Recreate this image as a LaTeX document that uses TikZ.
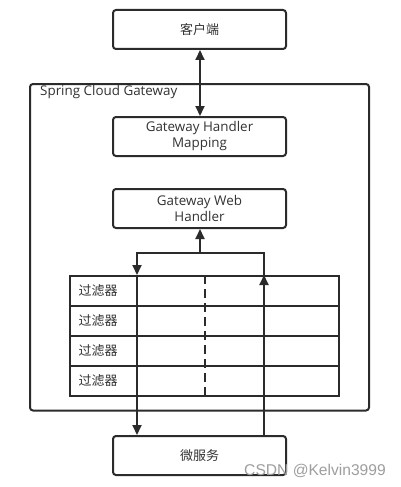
\documentclass[tikz,border=0pt]{standalone}
\usepackage{fontspec}
\setmainfont{Open Sans}
\newfontfamily\cjk{Noto Sans CJK SC}
\newfontfamily\wmfont{Liberation Sans}
\usetikzlibrary{arrows.meta,calc}
\definecolor{ln}{HTML}{2B2B2B}
\definecolor{tx}{HTML}{333333}
\begin{document}
\begin{tikzpicture}[x=1pt,y=-1pt,
  box/.style={draw=ln, line width=2pt, rounded corners=3pt, minimum width=173pt, minimum height=39pt, inner sep=0pt, align=center, text=tx, font=\fontsize{13.4}{16}\selectfont},
  cbox/.style={box, font=\cjk\fontsize{13}{15}\selectfont},
  rowbox/.style={draw=ln, line width=2pt, minimum width=269pt, minimum height=30pt, inner sep=0pt},
  ftext/.style={text=tx, font=\cjk\fontsize{13}{15}\selectfont, inner sep=0pt},
  conn/.style={draw=ln, line width=2pt},
  arr/.style={conn, -{Triangle[width=9pt,length=10pt]}},
  darr/.style={conn, {Triangle[width=9pt,length=10pt]}-{Triangle[width=9pt,length=10pt]}}]
\useasboundingbox (0,0) rectangle (400,487);
\fill[white] (0,0) rectangle (400,487);
% container
\node[draw=ln, line width=2pt, rounded corners=3pt, minimum width=339pt, minimum height=326.5pt, inner sep=0pt] (gw) at (199.5,247.25) {};
\node[anchor=west, text=tx, font=\fontsize{13.4}{16}\selectfont, inner sep=0pt] (gwlabel) at (40,92) {Spring Cloud Gateway};
% boxes
\node[cbox] (client) at (199.5,29.5) {客户端};
\node[box] (ghm) at (199.5,136.5) {Gateway Handler\\Mapping};
\node[box] (gwh) at (199.5,208.5) {Gateway Web\\Handler};
\node[cbox] (micro) at (199.5,455.5) {微服务};
% filter rows
\node[rowbox] (f1) at (204.5,291) {};
\node[rowbox] (f2) at (204.5,321) {};
\node[rowbox] (f3) at (204.5,351) {};
\node[rowbox] (f4) at (204.5,381) {};
\node[ftext] (t1) at ([xshift=29pt]f1.west) {过滤器};
\node[ftext] (t2) at ([xshift=29pt]f2.west) {过滤器};
\node[ftext] (t3) at ([xshift=29pt]f3.west) {过滤器};
\node[ftext] (t4) at ([xshift=29pt]f4.west) {过滤器};
% coordinates
\coordinate (split) at (200,253);
\coordinate (L) at (137,253);
\coordinate (R) at (264,253);
\coordinate (D) at (205,253);
% connectors
\draw[darr] ([xshift=0.5pt]client.south) -- ([xshift=0.5pt]ghm.north);
\draw[arr] (split) -- (split |- gwh.south);
\draw[arr] (R |- f1.north) -- (R) -- (L) -- (L |- f1.north);
\draw[arr] (L |- f1.north) -- (L |- micro.north);
\draw[arr] (R |- micro.north) -- (R |- f1.north);
\draw[conn, dash pattern=on 9pt off 5pt] (D |- f1.north) -- (D |- f4.south);
% watermark
\node[anchor=east, text=black!38, font=\wmfont\fontsize{15.6}{16}\selectfont, inner sep=0pt] (wm) at (386,471) {CSDN @Kelvin3999};
\end{tikzpicture}
\end{document}
